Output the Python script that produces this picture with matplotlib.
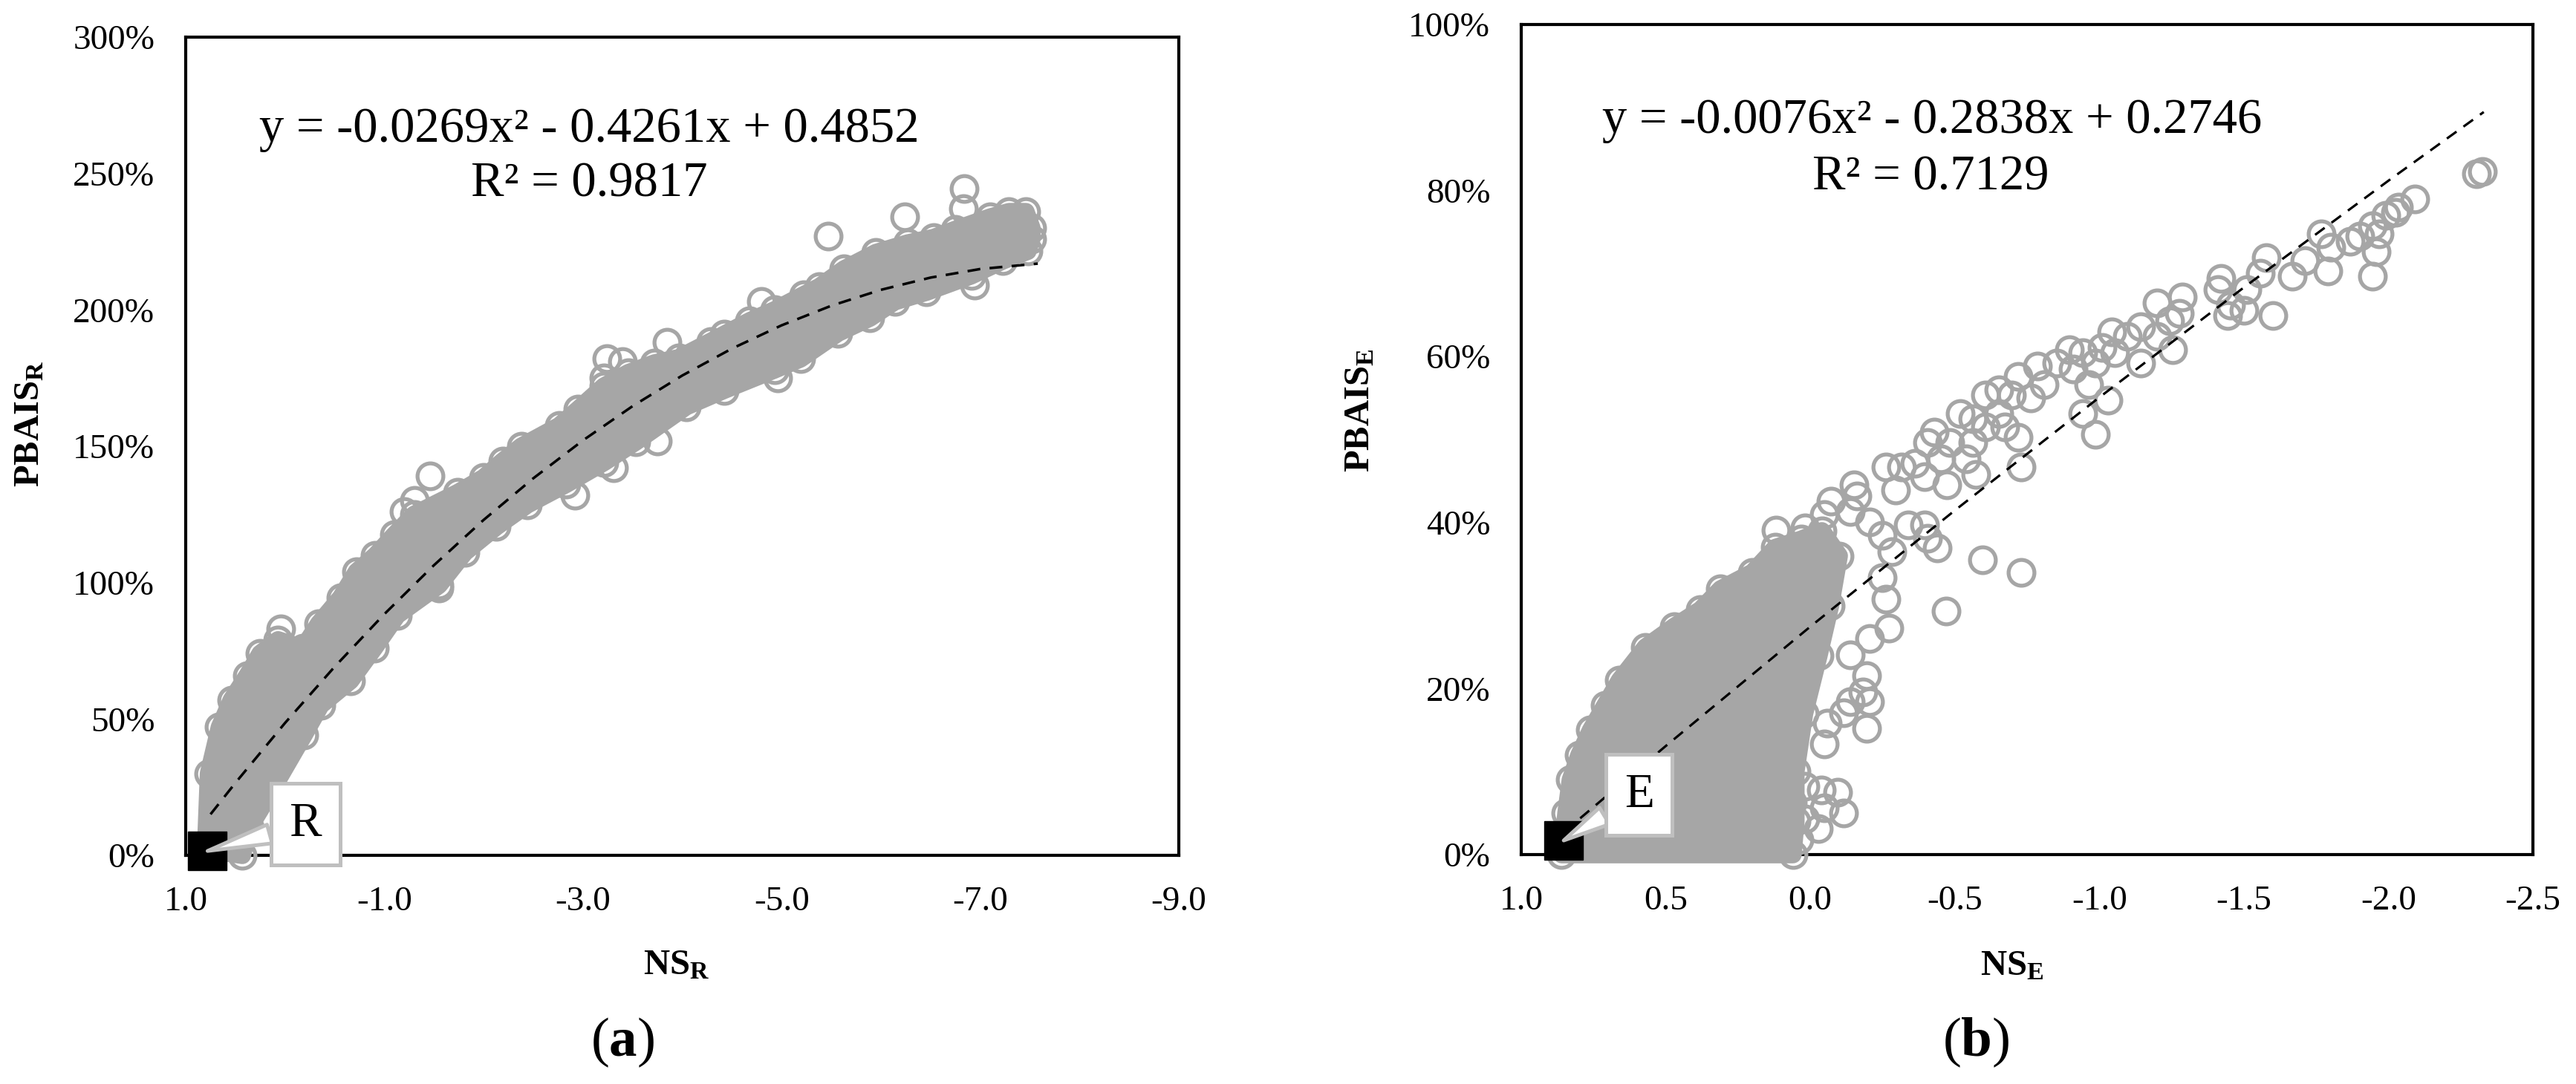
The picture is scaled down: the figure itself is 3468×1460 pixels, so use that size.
import matplotlib.pyplot as plt
import matplotlib.ticker as mticker
import numpy as np

plt.rcParams['font.family'] = ['Liberation Serif', 'DejaVu Serif']
plt.rcParams['mathtext.fontset'] = 'custom'
plt.rcParams['mathtext.rm'] = 'Liberation Serif'
plt.rcParams['mathtext.bf'] = 'Liberation Serif:bold'
plt.rcParams['mathtext.it'] = 'Liberation Serif:italic'
plt.rcParams['axes.unicode_minus'] = False

# ---- panel (a): NS_R vs PBAIS_R ----
# dense band of points: upper / lower edge (circle centres)
ns_r_upper = [0.80, 0.77, 0.66, 0.54, 0.38, 0.25, 0.07, -0.18, -0.34, -0.56,
              -0.72, -0.91, -1.10, -1.30, -1.74, -2.00, -2.19, -2.38, -2.76, -2.95,
              -3.21, -3.46, -3.72, -3.97, -4.29, -4.42, -4.68, -4.93, -5.22, -5.38,
              -5.63, -5.95, -6.27, -6.53, -6.75, -7.10, -7.29, -7.46, -7.52]
pbais_r_upper = [0.02, 0.30, 0.47, 0.57, 0.66, 0.74, 0.79, 0.76, 0.85, 0.945,
                 1.04, 1.10, 1.175, 1.25, 1.33, 1.385, 1.445, 1.50, 1.575, 1.635,
                 1.72, 1.77, 1.805, 1.825, 1.885, 1.91, 1.96, 2.00, 2.055, 2.085,
                 2.15, 2.21, 2.245, 2.265, 2.295, 2.34, 2.36, 2.36, 2.30]
ns_r_lower = [0.43, 0.36, 0.16, -0.19, -0.36, -0.66, -0.90, -1.13, -1.55, -1.81,
              -2.13, -2.44, -2.83, -3.21, -3.53, -4.04, -4.42, -4.93, -5.19, -5.57,
              -5.89, -6.14, -6.46, -6.91, -7.23, -7.48, -7.52]
pbais_r_lower = [0.00, 0.10, 0.22, 0.44, 0.55, 0.64, 0.76, 0.88, 0.99, 1.11,
                 1.205, 1.285, 1.36, 1.44, 1.515, 1.645, 1.705, 1.78, 1.82, 1.915,
                 1.97, 2.03, 2.065, 2.125, 2.18, 2.215, 2.26]
# scattered points outside the band
ns_r_out = [-6.84, -6.83, -6.24, -5.47, -4.80, -3.85, -3.24, -3.40, -3.21, -1.46,
            -1.30, -1.20, -3.75, -4.96, -6.94, -1.55, -3.31, -2.92, 0.04]
pbais_r_out = [2.445, 2.37, 2.34, 2.27, 2.03, 1.88, 1.82, 1.81, 1.75, 1.39,
               1.30, 1.26, 1.52, 1.75, 2.09, 0.98, 1.42, 1.32, 0.83]
# polynomial trend line (y = -0.0269x2 - 0.4261x + 0.4852)
trend_r_x = [0.75, 0.5, 0.0, -0.5, -1.0, -1.5, -2.0, -2.5, -3.0, -3.5,
             -4.0, -4.5, -5.0, -5.5, -6.0, -6.5, -7.0, -7.58]
trend_r_y = [0.1505, 0.2654, 0.4852, 0.6915, 0.8844, 1.0638, 1.2298, 1.3823, 1.5214, 1.6470,
             1.7592, 1.8579, 1.9432, 2.0150, 2.0734, 2.1183, 2.1498, 2.1695]
ideal_r_x = [0.78]
ideal_r_y = [0.016]

# ---- panel (b): NS_E vs PBAIS_E ----
ns_e_blob = [0.86, 0.845, 0.83, 0.80, 0.76, 0.71, 0.66, 0.57, 0.47, 0.38, 0.31,
             0.20, 0.12, 0.03, -0.04, -0.10, -0.07, -0.03, 0.02, 0.05, 0.05, 0.06]
pbais_e_blob = [0.00, 0.05, 0.09, 0.12, 0.15, 0.18, 0.21, 0.25, 0.275, 0.295, 0.32,
                0.34, 0.37, 0.38, 0.39, 0.36, 0.30, 0.24, 0.17, 0.10, 0.04, 0.00]
ns_e_pts = [-2.304, -2.326, -2.092, -2.036, -2.025, -1.991, -1.946, -1.969, -1.958, -1.946,
            -1.902, -1.868, -1.768, -1.801, -1.790, -1.712, -1.668, -1.578, -1.556, -1.600,
            -1.511, -1.500, -1.422, -1.411, -1.455, -1.444, -1.288, -1.199, -1.277, -1.243,
            -1.254, -1.199, -1.143, -1.098, -1.042, -1.009, -1.143, -1.054, -0.987, -0.942,
            -0.897, -0.909, -1.031, -0.964, -0.987, -0.942, -0.853, -0.786, -0.808, -0.763,
            -0.719, -0.697, -0.652, -0.607, -0.652, -0.719, -0.730, -0.674, -0.607, -0.562,
            -0.518, -0.562, -0.540, -0.574, -0.484, -0.451, -0.429, -0.406, -0.362, -0.473,
            -0.395, -0.317, -0.261, -0.295, -0.339, -0.395, -0.440, -0.406, -0.283, -0.250,
            -0.205, -0.161, -0.150, -0.138, -0.071, -0.049, 0.018, 0.118, -0.596, -0.730,
            -0.469, -0.250, -0.261, -0.272, -0.205, -0.138, -0.194, -0.183, -0.138, -0.205,
            -0.116, -0.194, -0.060, -0.049, 0.018, -0.038, -0.094, -0.116, -0.049, 0.018,
            -0.027, 0.040, 0.063]
pbais_e_pts = [0.820, 0.823, 0.790, 0.780, 0.774, 0.770, 0.758, 0.748, 0.726, 0.697,
               0.745, 0.739, 0.748, 0.732, 0.703, 0.716, 0.697, 0.719, 0.700, 0.649,
               0.681, 0.656, 0.694, 0.681, 0.662, 0.649, 0.672, 0.665, 0.652, 0.643,
               0.608, 0.624, 0.636, 0.624, 0.630, 0.611, 0.592, 0.605, 0.592, 0.605,
               0.608, 0.585, 0.547, 0.566, 0.506, 0.531, 0.592, 0.589, 0.566, 0.550,
               0.576, 0.554, 0.560, 0.554, 0.531, 0.503, 0.467, 0.515, 0.515, 0.525,
               0.531, 0.496, 0.477, 0.458, 0.496, 0.477, 0.509, 0.496, 0.471, 0.445,
               0.455, 0.467, 0.467, 0.439, 0.397, 0.397, 0.369, 0.381, 0.365, 0.385,
               0.401, 0.432, 0.445, 0.413, 0.426, 0.410, 0.394, 0.391, 0.355, 0.340,
               0.293, 0.334, 0.308, 0.273, 0.260, 0.241, 0.216, 0.196, 0.184, 0.184,
               0.171, 0.152, 0.158, 0.133, 0.082, 0.078, 0.075, 0.050, 0.056, 0.043,
               0.031, 0.018, 0.063]
# polynomial trend line (y = -0.0076x2 - 0.2838x + 0.2746)
trend_e_x = [0.85, 0.5, 0.0, -0.5, -1.0, -1.5, -2.0, -2.33]
trend_e_y = [0.0279, 0.1308, 0.2746, 0.4146, 0.5508, 0.6832, 0.8118, 0.8946]
ideal_e_x = [0.853]
ideal_e_y = [0.017]

GRAY = '#A6A6A6'
BOX_GRAY = '#BFBFBF'
circ = dict(ls='none', marker='o', mfc='none', mec=GRAY, ms=25, mew=3.8, clip_on=False, zorder=2.2)


def style_axes(ax, xlim, xticks, ylim, yticks):
    ax.set_xlim(*xlim)
    ax.set_ylim(*ylim)
    ax.set_xticks(xticks)
    ax.set_yticks(yticks)
    ax.xaxis.set_major_formatter(mticker.FormatStrFormatter('%.1f'))
    ax.yaxis.set_major_formatter(mticker.PercentFormatter(xmax=1, decimals=0))
    ax.tick_params(length=0, labelsize=34, pad=30)
    for sp in ax.spines.values():
        sp.set_linewidth(3.0)
        sp.set_zorder(1.5)


def callout(ax, px, py, label, offset):
    ax.plot(px, py, 's', color='black', ms=38, zorder=5, clip_on=False)
    ax.annotate(label, xy=(px[0], py[0]), xytext=offset, textcoords='offset points',
                ha='center', va='center', fontsize=47, zorder=6, annotation_clip=False,
                bbox=dict(boxstyle='square,pad=0.38', fc='white', ec=BOX_GRAY, lw=3.6),
                arrowprops=dict(arrowstyle='wedge,tail_width=0.4,shrink_factor=0.5',
                                fc='white', ec=BOX_GRAY, lw=3.6, shrinkA=0, shrinkB=0))


fig = plt.figure(figsize=(34.68, 14.6), dpi=100)
ax1 = fig.add_axes([0.07209, 0.21096, 0.38552, 0.75479])
ax2 = fig.add_axes([0.59054, 0.21164, 0.39273, 0.76575])

# panel (a)
band_x = np.concatenate([ns_r_upper, ns_r_lower[::-1]])
band_y = np.concatenate([pbais_r_upper, pbais_r_lower[::-1]])
ax1.fill(band_x, band_y, fc=GRAY, ec=GRAY, lw=17, joinstyle='round', zorder=2, clip_on=False)
ax1.plot(ns_r_upper, pbais_r_upper, **circ)
ax1.plot(ns_r_lower, pbais_r_lower, **circ)
ax1.plot(ns_r_out, pbais_r_out, **circ)
ax1.plot(trend_r_x, trend_r_y, color='black', lw=2.5, dashes=(5, 3.6), zorder=4)
callout(ax1, ideal_r_x, ideal_r_y, 'R', (95, 26))
style_axes(ax1, (1, -9), [1, -1, -3, -5, -7, -9], (0, 3), np.arange(0, 3.01, 0.5))
ax1.text(0.406, 0.872, 'y = -0.0269x² - 0.4261x + 0.4852', transform=ax1.transAxes,
         ha='center', va='baseline', fontsize=48)
ax1.text(0.406, 0.805, 'R² = 0.9817', transform=ax1.transAxes,
         ha='center', va='baseline', fontsize=48)
ax1.set_xlabel(r'$\mathbf{NS_R}$', fontsize=35, va='baseline')
ax1.xaxis.set_label_coords(0.494, -0.146)
ax1.set_ylabel(r'$\mathbf{PBAIS_R}$', fontsize=35, va='baseline')
ax1.yaxis.set_label_coords(-0.148, 0.527)

# panel (b)
ax2.fill(ns_e_blob, pbais_e_blob, fc=GRAY, ec=GRAY, lw=17, joinstyle='round', zorder=2, clip_on=False)
ax2.plot(ns_e_blob, pbais_e_blob, **circ)
ax2.plot(ns_e_pts, pbais_e_pts, **circ)
ax2.plot(trend_e_x, trend_e_y, color='black', lw=2.3, dashes=(5, 3.6), zorder=4)
callout(ax2, ideal_e_x, ideal_e_y, 'E', (73, 44))
style_axes(ax2, (1, -2.5), np.arange(1, -2.51, -0.5), (0, 1), np.arange(0, 1.01, 0.2))
ax2.text(0.406, 0.869, 'y = -0.0076x² - 0.2838x + 0.2746', transform=ax2.transAxes,
         ha='center', va='baseline', fontsize=48)
ax2.text(0.405, 0.801, 'R² = 0.7129', transform=ax2.transAxes,
         ha='center', va='baseline', fontsize=48)
ax2.set_xlabel(r'$\mathbf{NS_E}$', fontsize=35, va='baseline')
ax2.xaxis.set_label_coords(0.485, -0.145)
ax2.set_ylabel(r'$\mathbf{PBAIS_E}$', fontsize=35, va='baseline')
ax2.yaxis.set_label_coords(-0.150, 0.535)

fig.text(0.2416, 0.0384, r'($\mathbf{a}$)', fontsize=54, ha='center', va='center')
fig.text(0.767, 0.0384, r'($\mathbf{b}$)', fontsize=54, ha='center', va='center')

fig.savefig('out.png', dpi=100, facecolor='white')
